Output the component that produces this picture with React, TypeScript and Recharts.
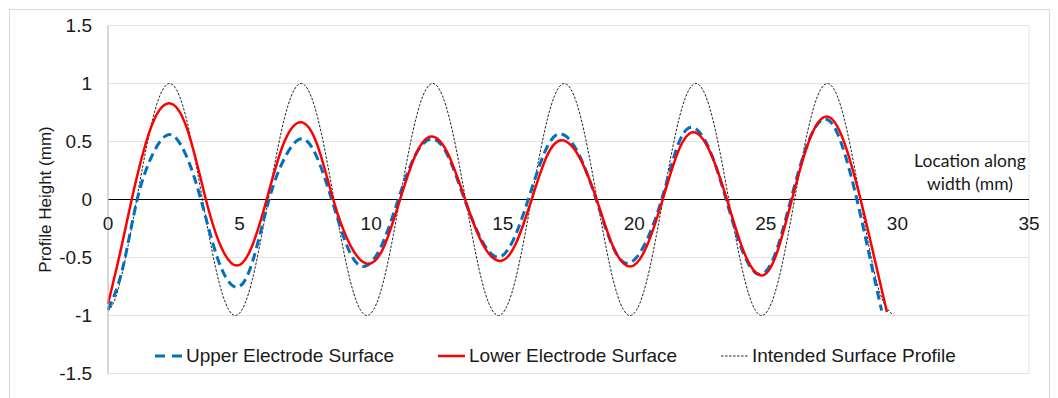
import React from 'react';
import {
  LineChart,
  Line,
  XAxis,
  YAxis,
  CartesianGrid,
  ReferenceLine,
  ReferenceDot,
} from 'recharts';

const xTicks = [0, 5, 10, 15, 20, 25, 30, 35];
const yTicks = [-1.5, -1, -0.5, 0, 0.5, 1, 1.5];

const seriesNames = ['Upper Electrode Surface', 'Lower Electrode Surface', 'Intended Surface Profile'];

// upper electrode (blue dashed)
const upperX = [
  0, 0.55, 1.11, 1.72, 2.33, 2.93, 3.53, 4.2, 4.89, 5.5, 6.12, 6.74, 7.36, 7.93, 8.5,
  9.1, 9.7, 10.37, 11.03, 11.65, 12.3, 12.93, 13.55, 14.2, 14.82, 15.4, 15.97, 16.58,
  17.18, 17.87, 18.55, 19.15, 19.74, 20.39, 21.04, 21.61, 22.18, 22.84, 23.49, 24.14,
  24.78, 25.37, 25.95, 26.6, 27.25, 27.86, 28.46, 28.95, 29.4,
];
const upperY = [
  -0.95, -0.6, 0, 0.4, 0.56, 0.4, 0, -0.53, -0.756, -0.53, 0, 0.37, 0.523, 0.37, 0,
  -0.41, -0.578, -0.41, 0, 0.37, 0.523, 0.37, 0, -0.35, -0.497, -0.35, 0, 0.4,
  0.566, 0.4, 0, -0.39, -0.55, -0.39, 0, 0.44, 0.623, 0.44, 0, -0.46,
  -0.647, -0.46, 0, 0.49, 0.695, 0.49, 0, -0.5, -0.957,
];

// lower electrode (red solid)
const lowerX = [
  0, 0.45, 0.9, 1.6, 2.32, 3.02, 3.72, 4.3, 4.89, 5.46, 6.03, 6.67, 7.32, 7.94, 8.56,
  9.22, 9.89, 10.5, 11.1, 11.7, 12.3, 12.93, 13.57, 14.23, 14.9, 15.5, 16.1, 16.67,
  17.24, 17.9, 18.57, 19.2, 19.84, 20.46, 21.08, 21.66, 22.25, 22.88, 23.52, 24.18,
  24.85, 25.42, 25.99, 26.65, 27.31, 27.95, 28.6, 29.1, 29.6,
];
const lowerY = [
  -0.9, -0.47, 0, 0.6, 0.83, 0.6, 0, -0.41, -0.57, -0.41, 0, 0.48, 0.667, 0.48, 0,
  -0.4, -0.555, -0.4, 0, 0.39, 0.543, 0.39, 0, -0.38, -0.53, -0.38, 0, 0.37,
  0.51, 0.37, 0, -0.41, -0.578, -0.41, 0, 0.41, 0.58, 0.41, 0, -0.46,
  -0.655, -0.46, 0, 0.51, 0.716, 0.51, 0, -0.48, -0.97,
];

// intended profile (thin black dotted)
const intendedX = [
  0, 0.34, 0.84, 1.34, 1.84, 2.34, 2.84, 3.34, 3.84, 4.34, 4.84,
  5.34, 5.84, 6.34, 6.84, 7.34, 7.84, 8.34, 8.84, 9.34, 9.84,
  10.34, 10.84, 11.34, 11.84, 12.34, 12.84, 13.34, 13.84, 14.34, 14.84,
  15.34, 15.84, 16.34, 16.84, 17.34, 17.84, 18.34, 18.84, 19.34, 19.84,
  20.34, 20.84, 21.34, 21.84, 22.34, 22.84, 23.34, 23.84, 24.34, 24.84,
  25.34, 25.84, 26.34, 26.84, 27.34, 27.84, 28.34, 28.84, 29.34, 29.84,
];
const intendedY = [
  -0.96, -0.81, -0.31, 0.31, 0.81, 1, 0.81, 0.31, -0.31, -0.81, -1,
  -0.81, -0.31, 0.31, 0.81, 1, 0.81, 0.31, -0.31, -0.81, -1,
  -0.81, -0.31, 0.31, 0.81, 1, 0.81, 0.31, -0.31, -0.81, -1,
  -0.81, -0.31, 0.31, 0.81, 1, 0.81, 0.31, -0.31, -0.81, -1,
  -0.81, -0.31, 0.31, 0.81, 1, 0.81, 0.31, -0.31, -0.81, -1,
  -0.81, -0.31, 0.31, 0.81, 1, 0.81, 0.31, -0.31, -0.81, -1,
];

const zip = (xs: number[], ys: number[]) => xs.map((x, i) => ({ x, y: ys[i] }));

const upperData = zip(upperX, upperY);
const lowerData = zip(lowerX, lowerY);
const intendedData = zip(intendedX, intendedY);

const FONT = "'Liberation Sans', Arial, sans-serif";
const BLUE = '#0070C0';
const RED = '#FF0000';
const BLACK = '#222';

const legendItems = [
  { name: seriesNames[0], color: BLUE, width: 3, dash: '10 7', left: 155 },
  { name: seriesNames[1], color: RED, width: 2.5, dash: undefined, left: 438 },
  { name: seriesNames[2], color: BLACK, width: 1, dash: '2.5 1.5', left: 721 },
];

export default function App() {
  return (
    <div style={{ position: 'absolute', left: 0, top: 0, width: 1058, height: 398, background: '#fff', overflow: 'hidden' }}>
      <div style={{ position: 'absolute', left: 9, top: 9, width: 1039, height: 420, border: '1px solid #d9d9d9' }} />
      <div style={{ position: 'absolute', left: 0, top: 0 }}>
        <LineChart width={1058} height={398} margin={{ top: 25.5, right: 29, bottom: 24.5, left: 0 }}>
          <CartesianGrid stroke="#e3e3e3" />
          <XAxis
            type="number"
            dataKey="x"
            domain={[0, 35]}
            ticks={xTicks}
            axisLine={false}
            tickLine={false}
            tick={false}
            height={0}
          />
          <YAxis
            type="number"
            domain={[-1.5, 1.5]}
            ticks={yTicks}
            width={108}
            axisLine={{ stroke: '#bfbfbf' }}
            tickLine={false}
            tickMargin={10}
            tick={{ fill: '#1a1a1a', fontSize: 19, fontFamily: FONT }}
            label={(p: any) => {
              const vb = p.viewBox;
              const cx = vb.x + 45;
              const cy = vb.y + vb.height / 2;
              return (
                <text
                  x={cx}
                  y={cy}
                  transform={`rotate(-90, ${cx}, ${cy})`}
                  textAnchor="middle"
                  dominantBaseline="central"
                  fontSize={17}
                  fontFamily={FONT}
                  fill="#1a1a1a"
                >
                  Profile Height (mm)
                </text>
              );
            }}
          />
          <ReferenceLine
            y={0}
            stroke="#000"
            strokeWidth={1}
            label={(p: any) => {
              const vb = p.viewBox;
              const cx = vb.x + vb.width - 59;
              return (
                <text textAnchor="middle" fontSize={17.5} fontFamily="Lato, 'Open Sans', sans-serif" fill="#1a1a1a">
                  <tspan x={cx} y={vb.y - 39} dominantBaseline="central">Location along</tspan>
                  <tspan x={cx} y={vb.y - 16} dominantBaseline="central">width (mm)</tspan>
                </text>
              );
            }}
          />
          {xTicks.map((t) => (
            <ReferenceDot
              key={t}
              x={t}
              y={0}
              r={1}
              fill="none"
              stroke="none"
              label={(p: any) => {
                const vb = p.viewBox;
                return (
                  <text
                    x={vb.x + vb.width / 2}
                    y={vb.y + vb.height / 2 + 24}
                    textAnchor="middle"
                    dominantBaseline="central"
                    fontSize={19}
                    fontFamily={FONT}
                    fill="#1a1a1a"
                  >
                    {t}
                  </text>
                );
              }}
            />
          ))}
          <Line
            data={intendedData}
            dataKey="y"
            name={seriesNames[2]}
            type="natural"
            stroke={BLACK}
            strokeWidth={1}
            strokeDasharray="2.5 1.5"
            dot={false}
            isAnimationActive={false}
          />
          <Line
            data={upperData}
            dataKey="y"
            name={seriesNames[0]}
            type="natural"
            stroke={BLUE}
            strokeWidth={3}
            strokeDasharray="9 5"
            dot={false}
            isAnimationActive={false}
          />
          <Line
            data={lowerData}
            dataKey="y"
            name={seriesNames[1]}
            type="natural"
            stroke={RED}
            strokeWidth={2.5}
            dot={false}
            isAnimationActive={false}
          />
        </LineChart>
      </div>
      {legendItems.map((it) => (
        <div
          key={it.name}
          style={{
            position: 'absolute',
            left: it.left,
            top: 346,
            height: 20,
            display: 'flex',
            alignItems: 'center',
            fontFamily: FONT,
            fontSize: 19,
            color: '#1a1a1a',
            whiteSpace: 'nowrap',
          }}
        >
          <svg width={27} height={20} style={{ marginRight: 4 }}>
            <line x1={0} y1={10} x2={27} y2={10} stroke={it.color} strokeWidth={it.width} strokeDasharray={it.dash} />
          </svg>
          <span>{it.name}</span>
        </div>
      ))}
    </div>
  );
}
